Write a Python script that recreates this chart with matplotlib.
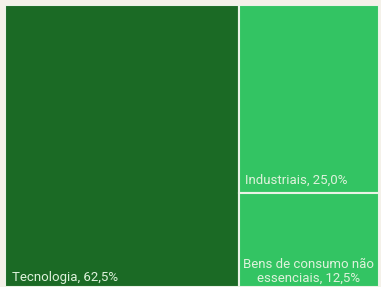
import matplotlib
matplotlib.use("Agg")
import matplotlib.pyplot as plt
from matplotlib.patches import Rectangle

categories = ["Tecnologia", "Industriais", "Bens de consumo não\nessenciais"]
values = [62.5, 25.0, 12.5]
labels = ["Tecnologia, 62,5%", "Industriais, 25,0%", "Bens de consumo não\nessenciais, 12,5%"]
colors = ["#1b6a25", "#33c463", "#33c463"]

W, H = 381, 287
fig = plt.figure(figsize=(W / 100, H / 100), dpi=100, facecolor="#f4f1e9")
ax = fig.add_axes([5 / W, 0, 374 / W, 282 / H])
ax.set_xlim(0, 1)
ax.set_ylim(0, 1)
ax.axis("off")

total = sum(values)
w0 = values[0] / total
rest = values[1] + values[2]
h1 = values[1] / rest
rects = [
    (0, 0, w0, 1),
    (w0, 1 - h1, 1 - w0, h1),
    (w0, 0, 1 - w0, 1 - h1),
]
for (x, y, w, h), c in zip(rects, colors):
    ax.add_patch(Rectangle((x, y), w, h, facecolor=c, edgecolor="#eaf3e6", linewidth=1.5))

fp = dict(family=["Roboto", "DejaVu Sans"], fontsize=9.5, color="#dff2dc")
ax.text(0.018, 0.012, labels[0], ha="left", va="bottom", **fp)
ax.text(w0 + 0.016, 1 - h1 + 0.022, labels[1], ha="left", va="bottom", **fp)
ax.text(w0 + (1 - w0) / 2, 0.008, labels[2], ha="center", va="bottom", linespacing=1.1, **fp)

fig.savefig("out.png", dpi=100, facecolor=fig.get_facecolor())
